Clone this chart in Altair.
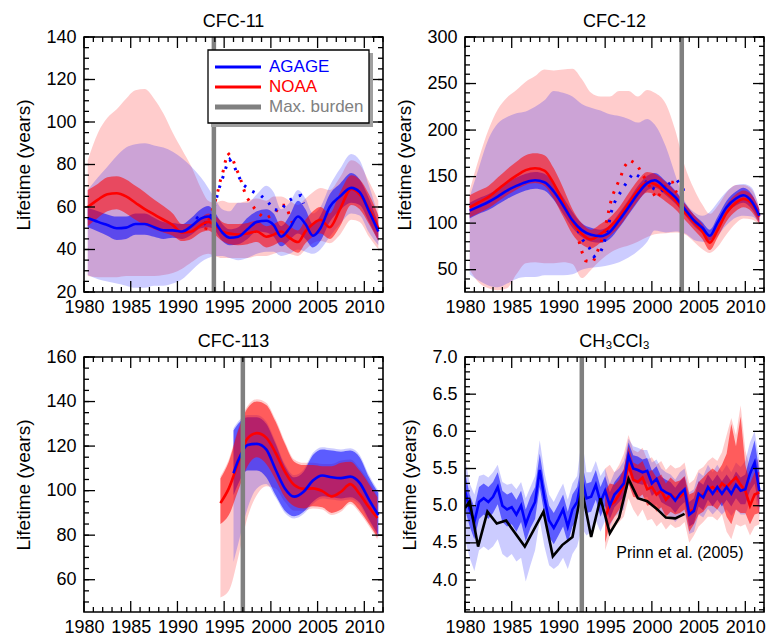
import altair as alt
import pandas as pd

FONT = "Liberation Sans"
W, H = 299, 255
BLUE, RED, GREY, BLACK = "#0000ff", "#ff0000", "#808080", "#000000"
LIGHT_OP, DARK_OP = 0.2, 0.55

X_DOMAIN = [1980, 2012]
X_MAJOR = [1980, 1985, 1990, 1995, 2000, 2005, 2010]
X_MINOR = [y for y in range(1980, 2013) if y % 5 != 0]

# ---------------- CFC-11 ----------------
CFC11_YEARS = [1980.4, 1981.5, 1982.5, 1983.5, 1984.5, 1985.5, 1986.5, 1987.5, 1988.5, 1989.5,
               1990.5, 1991.5, 1992.5, 1993.3, 1994.0, 1994.8, 1995.6, 1996.5, 1997.5, 1998.5,
               1999.5, 2000.3, 2001.1, 2002.0, 2002.9, 2003.7, 2004.5, 2005.3, 2006.3, 2007.4,
               2008.6, 2009.5, 2010.5, 2011.5]
CFC11_AGAGE = [54.8, 53.0, 51.5, 50.0, 50.3, 52.0, 52.0, 50.5, 49.0, 49.0, 48.5, 51.0, 54.5, 55.5,
               53.0, 48.0, 45.5, 46.0, 49.5, 53.0, 53.5, 51.5, 46.0, 50.0, 55.5, 52.0, 46.5, 50.0,
               60.0, 65.0, 69.0, 67.0, 58.0, 48.5]
CFC11_AGAGE_DLO = [50.5, 48.5, 46.5, 44.5, 45, 47, 47, 46, 45, 45.5, 45, 47, 50, 50.5, 49, 44, 42,
                   42.5, 45, 48.5, 48, 46, 41.5, 44.5, 47.5, 45, 41, 44, 53, 58.5, 62, 61, 53, 44]
CFC11_AGAGE_DHI = [59.5, 58, 56.5, 55.5, 55.5, 57, 57, 55, 53, 52.5, 52, 55, 59, 60.5, 57.5, 52,
                   49.5, 50.5, 55, 58, 59, 57, 51, 56, 63, 59, 52, 56, 66, 71, 76, 73, 64, 52]
CFC11_AGAGE_LLO = [28, 26, 25, 24, 23, 22, 22, 23, 23, 24, 26, 30, 34, 36, 37, 37, 36, 35, 36, 38,
                   39, 39, 37, 38, 40, 39, 38, 40, 46, 52, 57, 56, 48, 42]
CFC11_AGAGE_LHI = [68, 74, 79, 84, 88, 89.5, 90, 89, 88, 86, 83, 79, 74, 69, 64, 59, 58, 62, 62, 66,
                   70, 67, 59, 62, 68, 64, 57, 60, 70, 78, 85, 82, 70, 56]
CFC11_NOAA = [60, 63.5, 66, 66.5, 65, 62, 59, 56.5, 54, 51.5, 48, 48.5, 51.5, 53, 51.5, 48.5, 47.5,
              47, 47.5, 48.5, 46, 47, 48.5, 45.5, 43.5, 48.5, 52, 54, 50.5, 59, 68.5, 66, 59, 50]
CFC11_NOAA_DLO = [51, 55, 58, 59, 57, 54, 51.5, 49.5, 48, 46.5, 44, 45, 48, 49, 47, 44, 42.5, 42,
                  42.5, 43.5, 41, 42, 43.5, 40.5, 38.5, 43, 46, 47.5, 45, 51, 61, 59, 52, 44]
CFC11_NOAA_DHI = [68, 71, 74, 74.5, 73, 70, 67, 63.5, 60.5, 57, 52, 52, 55, 57, 56, 53, 52, 52,
                  52.5, 53.5, 51, 52, 53.5, 51, 49, 54, 58, 60, 57, 67, 75, 73, 66, 56]
CFC11_NOAA_LLO = [27.5, 27, 27, 27, 27.5, 27.5, 27.5, 27.5, 28, 29, 31, 34, 37, 38, 37, 36, 36, 36,
                  36, 37, 37, 38, 39, 38, 37, 40, 43, 44, 43, 47, 54, 53, 46, 40]
CFC11_NOAA_LHI = [82, 95, 102, 106, 111, 115, 115.5, 111, 104, 95, 87, 79, 69, 63, 62, 63, 62, 62,
                  63, 64, 63, 65, 65, 63, 61, 64, 67, 69, 68, 74, 82, 80, 72, 63]
CFC11_AGAGE_DOT_YEARS = [1992.0, 1992.9, 1993.5, 1994.0, 1994.4, 1994.9, 1995.3, 1995.6, 1996.1,
                         1996.6, 1997.1, 1998.0, 1998.9, 1999.7, 2000.3, 2001.1, 2001.7, 2002.6,
                         2003.2, 2003.5]
CFC11_AGAGE_DOT = [55.3, 52.2, 55, 61, 68, 74.5, 80, 82.3, 78.8, 74, 70.2, 67.4, 65.5, 62.4, 58.7,
                   58.4, 62.4, 64.7, 65.5, 61.6]
CFC11_NOAA_DOT_YEARS = [1993.0, 1993.6, 1994.0, 1994.3, 1994.6, 1994.9, 1995.1, 1995.4, 1995.9,
                        1996.3, 1996.7, 1997.0, 1997.4, 1998.0, 1998.6, 1999.4, 2000.4, 2001.0,
                        2001.6, 2002.0, 2002.4]
CFC11_NOAA_DOT = [49.3, 56.9, 62, 67, 72.5, 77, 81, 85.4, 82.7, 78, 74, 69.4, 64.7, 60.8, 57.3,
                  54.5, 56.9, 60.8, 60.8, 56, 51.4]

# ---------------- CFC-12 ----------------
CFC12_YEARS = [1980.5, 1981.5, 1982.5, 1983.5, 1984.5, 1985.5, 1986.5, 1987.5, 1988.5, 1989.5,
               1990.5, 1991.5, 1992.5, 1993.5, 1994.5, 1995.5, 1996.5, 1997.5, 1998.5, 1999.5,
               2000.3, 2001.5, 2002.5, 2003.5, 2004.5, 2005.4, 2006.2, 2007.0, 2008.0, 2009.0,
               2009.8, 2010.7, 2011.5]
CFC12_AGAGE = [113.5, 118, 122.7, 128.5, 135, 140, 144, 146, 144, 134, 119, 103, 92.5, 87.5, 86,
               90.5, 103, 117, 131.5, 143, 146, 137, 128, 115.5, 103, 95, 86.5, 100, 117, 126.5,
               130, 123, 108]
CFC12_AGAGE_DLO = [105, 110, 114, 120, 126, 131, 135, 137, 135, 125, 110, 95, 85, 80, 79, 83, 95,
                   109, 123, 135, 138, 130, 121, 109, 97, 89, 81, 94, 110, 119, 122, 115, 101]
CFC12_AGAGE_DHI = [122, 127, 131, 137, 144, 149, 153, 155, 153, 143, 128, 112, 100, 95, 93, 98,
                   111, 125, 140, 151, 154, 145, 135, 122, 109, 101, 93, 106, 124, 134, 138, 131, 115]
CFC12_AGAGE_LLO = [45, 38, 33, 31, 35, 40, 42, 42, 44, 44, 44, 45, 50, 52, 53, 55, 58, 63, 70, 80,
                   92, 90, 91, 89, 82, 80, 79, 86, 98, 106, 108, 107, 100]
CFC12_AGAGE_LHI = [128, 160, 190, 207, 214, 218, 220, 225, 232, 242, 240, 236, 228, 224, 221, 217,
                   215, 212, 208, 212, 206, 182, 152, 124, 112, 108, 112, 122, 134, 141, 142, 138, 115]
CFC12_NOAA = [117, 122.5, 128, 136, 144, 151, 157, 159, 156.5, 142.5, 122.5, 101, 88.5, 82.5, 88.5,
              96, 106.5, 121, 135, 144, 142, 133.5, 124.5, 112, 101, 91, 79, 92, 111, 122, 126,
              121, 107]
CFC12_NOAA_DLO = [106, 111, 116, 123, 130, 136, 141, 143, 140, 126, 107, 88, 77, 73, 79, 86, 96,
                  110, 124, 133, 131, 123, 115, 104, 93, 83, 71, 84, 102, 113, 117, 112, 99]
CFC12_NOAA_DHI = [130, 135, 140, 149, 158, 166, 173, 175, 173, 159, 138, 115, 100, 93, 99, 106,
                  117, 132, 146, 155, 153, 144, 134, 121, 109, 99, 87, 100, 120, 131, 135, 130, 115]
CFC12_NOAA_LLO = [50, 36, 30, 28, 30, 45, 57, 58, 57, 57, 58, 56, 41, 50, 60, 68, 73, 76, 80, 85,
                  88, 89, 90, 88, 80, 72, 68, 74, 88, 100, 105, 104, 98]
CFC12_NOAA_LHI = [135, 170, 200, 222, 235, 243, 252, 258, 265, 264, 265, 266, 255, 240, 236, 236,
                  242, 242, 236, 243, 240, 228, 200, 162, 137, 120, 110, 118, 133, 141, 141, 136, 118]
CFC12_AGAGE_DOT_YEARS = [1992.1, 1992.6, 1993.3, 1993.8, 1994.5, 1994.9, 1995.1, 1995.4, 1995.6,
                         1995.9, 1996.3, 1996.7, 1997.1, 1998.0, 1998.8, 1999.5, 2000.2, 2000.9,
                         2001.4, 2002.0, 2002.7, 2003.3, 2003.6]
CFC12_AGAGE_DOT = [92, 82, 73.5, 64, 68.6, 78.5, 88.7, 99.3, 110, 120, 128, 134, 140.6, 154, 149,
                   143, 137, 133.5, 137, 144, 146, 138, 128]
CFC12_NOAA_DOT_YEARS = [1992.2, 1992.5, 1992.9, 1993.7, 1994.1, 1994.5, 1994.9, 1995.1, 1995.3,
                        1995.5, 1995.8, 1996.25, 1996.7, 1997.0, 1997.6, 1998.4, 1998.9, 1999.5,
                        2000.0, 2000.5, 2001.1, 2001.7, 2002.2, 2002.6, 2003.1, 2003.75]
CFC12_NOAA_DOT = [80.4, 69.6, 59.6, 57.8, 67.5, 78.2, 88.3, 99, 109, 119, 130, 140.6, 150.6, 160,
                  168, 163, 154, 144, 135, 126, 135, 144, 144, 133.5, 126, 121]

# ---------------- CFC-113 ----------------
CFC113_NOAA_YEARS = [1994.6, 1995.5, 1996.5, 1997.5, 1998.5, 1999.5, 2000.5, 2001.5, 2002.5,
                     2003.5, 2004.5, 2005.5, 2006.5, 2007.5, 2008.5, 2009.5, 2010.5, 2011.4]
CFC113_NOAA = [94.4, 101, 112.5, 123.5, 125.8, 123.8, 117, 108.5, 102.5, 100.8, 101, 99.8, 97.4,
               99.5, 102.9, 98.5, 92.5, 87.7]
CFC113_NOAA_DLO = [85, 89, 100, 111, 115, 112, 105, 97, 93, 92, 93, 92.5, 90, 91.5, 95, 91, 85, 79]
CFC113_NOAA_DHI = [105.5, 113, 127, 137, 140, 138.5, 131, 121, 113, 111.5, 111.5, 111, 111, 112.5,
                   113, 109, 103, 97]
CFC113_NOAA_LLO = [52, 55, 70, 88, 98, 102, 101, 95, 91, 91, 92, 91.5, 89, 90.5, 94, 90, 84, 78]
CFC113_NOAA_LHI = [106.5, 114, 128, 138, 141, 139.5, 132, 122, 114, 112.5, 112.5, 112, 112, 113.5,
                   114, 110, 104, 98]
CFC113_AGAGE_YEARS = [1996.0, 1996.5, 1997.5, 1998.5, 1999.5, 2000.5, 2001.5, 2002.5, 2003.5,
                      2004.5, 2005.5, 2006.5, 2007.5, 2008.5, 2009.5, 2010.5, 2011.5]
CFC113_AGAGE = [107.8, 113.5, 120.5, 121, 118.5, 109.5, 101, 97.3, 99.5, 104.5, 106.8, 106, 105.6,
                106.3, 103.5, 96, 89]
CFC113_AGAGE_DLO = [98, 103, 109, 109, 106, 98, 91, 88.5, 90.5, 95, 97.5, 97, 96.5, 97, 94.5, 87, 80]
CFC113_AGAGE_DHI = [127, 130, 133, 133, 130, 121, 111, 106, 108.5, 116, 118.5, 118, 117.5, 118,
                    115, 106, 99]
CFC113_AGAGE_LLO = [68, 76, 92, 101, 103, 97, 90, 87.5, 89.5, 94, 96.5, 96, 95.5, 96, 93.5, 86, 79]
CFC113_AGAGE_LHI = [128, 131, 134, 134, 131, 122, 112, 107, 109.5, 117, 119.5, 119, 118.5, 119,
                    116, 107, 100]

# ---------------- CH3CCl3 ----------------
CH3_AGAGE_YEARS = [1980.0 + 0.5 * i for i in range(64)]
CH3_AGAGE = [5.20, 4.95, 4.78, 5.05, 5.10, 5.05, 5.12, 5.25,
             5.00, 4.95, 4.98, 4.88, 5.00, 4.75, 4.92, 5.05,
             5.48, 5.10, 4.80, 4.70, 4.82, 4.95, 4.72, 4.95,
             5.05, 5.38, 5.10, 5.12, 5.28, 5.05, 5.20, 5.00,
             5.15, 5.22, 5.30, 5.67, 5.50, 5.48, 5.45, 5.47,
             5.30, 5.36, 5.22, 5.18, 5.15, 5.07, 5.16, 5.22,
             4.88, 4.93, 5.16, 5.11, 5.25, 5.16, 5.25, 5.16,
             5.25, 5.16, 5.28, 5.20, 5.22, 5.43, 5.58, 5.20]
CH3_AGAGE_DLO = [4.95, 4.72, 4.55, 4.82, 4.88, 4.82, 4.90, 5.02,
                 4.78, 4.72, 4.75, 4.65, 4.78, 4.52, 4.70, 4.82,
                 5.25, 4.88, 4.58, 4.48, 4.60, 4.72, 4.50, 4.72,
                 4.82, 5.15, 4.90, 4.92, 5.08, 4.85, 5.00, 4.82,
                 4.98, 5.05, 5.12, 5.48, 5.32, 5.30, 5.28, 5.30,
                 5.13, 5.19, 5.05, 5.01, 4.98, 4.90, 4.99, 5.05,
                 4.72, 4.76, 4.99, 4.94, 5.08, 4.99, 5.08, 4.99,
                 5.08, 4.99, 5.10, 5.02, 5.02, 5.20, 5.30, 4.95]
CH3_AGAGE_DHI = [5.45, 5.15, 4.98, 5.25, 5.30, 5.25, 5.32, 5.45,
                 5.20, 5.15, 5.18, 5.08, 5.20, 4.95, 5.12, 5.25,
                 5.70, 5.30, 5.00, 4.90, 5.02, 5.15, 4.92, 5.15,
                 5.25, 5.58, 5.30, 5.32, 5.48, 5.25, 5.40, 5.18,
                 5.32, 5.40, 5.48, 5.85, 5.68, 5.66, 5.62, 5.64,
                 5.47, 5.53, 5.39, 5.35, 5.32, 5.24, 5.33, 5.39,
                 5.05, 5.10, 5.33, 5.28, 5.42, 5.33, 5.42, 5.33,
                 5.42, 5.33, 5.46, 5.38, 5.42, 5.66, 5.88, 5.45]
CH3_AGAGE_LLO = [4.55, 4.30, 4.12, 4.40, 4.45, 4.40, 4.45, 4.55,
                 4.35, 4.30, 4.35, 4.25, 4.30, 3.98, 4.20, 4.40,
                 4.80, 4.45, 4.20, 4.15, 4.20, 4.30, 4.15, 4.35,
                 4.45, 4.70, 4.60, 4.65, 4.80, 4.65, 4.80, 4.72,
                 4.85, 4.90, 4.95, 5.30, 5.15, 5.12, 5.10, 5.12,
                 4.98, 5.02, 4.90, 4.88, 4.85, 4.78, 4.85, 4.92,
                 4.62, 4.65, 4.88, 4.84, 4.96, 4.88, 4.95, 4.88,
                 4.95, 4.86, 4.95, 4.88, 4.88, 5.05, 5.15, 4.85]
CH3_AGAGE_LHI = [5.65, 5.30, 5.15, 5.40, 5.42, 5.38, 5.45, 5.55,
                 5.32, 5.28, 5.30, 5.22, 5.32, 5.10, 5.25, 5.40,
                 5.88, 5.45, 5.15, 5.05, 5.18, 5.30, 5.08, 5.30,
                 5.40, 5.92, 5.45, 5.45, 5.60, 5.40, 5.50, 5.30,
                 5.45, 5.50, 5.60, 5.90, 5.80, 5.78, 5.75, 5.75,
                 5.58, 5.62, 5.50, 5.45, 5.42, 5.35, 5.45, 5.50,
                 5.18, 5.22, 5.45, 5.40, 5.55, 5.45, 5.55, 5.45,
                 5.55, 5.45, 5.58, 5.52, 5.60, 5.85, 6.00, 5.60]
CH3_NOAA_YEARS = [1995.0 + 0.5 * i for i in range(34)]
CH3_NOAA = [4.85, 5.00, 5.05, 5.15, 5.28, 5.55, 5.35, 5.32, 5.38, 5.22, 5.25, 5.15, 5.20, 5.08,
            5.15, 5.10, 5.12, 5.18, 4.92, 4.95, 5.10, 5.15, 5.22, 5.25, 5.20, 5.30, 5.25, 5.32,
            5.38, 5.28, 5.20, 5.00, 5.15, 5.18]
CH3_NOAA_DLO = [4.50, 4.75, 4.85, 4.95, 5.05, 5.30, 5.12, 5.10, 5.15, 5.00, 5.02, 4.92, 4.98, 4.85,
                4.92, 4.88, 4.90, 4.95, 4.65, 4.75, 4.88, 4.92, 5.00, 5.00, 4.95, 5.05, 4.85, 4.75,
                4.95, 4.90, 4.90, 4.75, 4.88, 4.90]
CH3_NOAA_DHI = [5.20, 5.30, 5.28, 5.35, 5.50, 5.80, 5.58, 5.55, 5.60, 5.45, 5.48, 5.38, 5.42, 5.30,
                5.38, 5.32, 5.34, 5.40, 5.15, 5.18, 5.32, 5.38, 5.45, 5.50, 5.45, 5.55, 5.70, 6.10,
                5.80, 6.20, 5.55, 5.30, 5.45, 5.45]
CH3_NOAA_LLO = [4.40, 4.60, 4.70, 4.78, 4.85, 5.10, 4.95, 4.85, 4.95, 4.80, 4.82, 4.72, 4.78, 4.68,
                4.75, 4.70, 4.72, 4.78, 4.50, 4.60, 4.72, 4.78, 4.85, 4.85, 4.80, 4.88, 4.65, 4.55,
                4.75, 4.72, 4.75, 4.60, 4.72, 4.75]
CH3_NOAA_LHI = [5.50, 5.55, 5.45, 5.55, 5.70, 5.95, 5.75, 5.72, 5.78, 5.62, 5.65, 5.55, 5.60, 5.48,
                5.55, 5.50, 5.52, 5.58, 5.30, 5.35, 5.48, 5.52, 5.60, 5.65, 5.60, 5.72, 5.95, 6.18,
                5.95, 6.35, 5.75, 5.50, 5.62, 5.62]
PRINN_YEARS = [1980.0, 1980.5, 1981.4, 1982.4, 1983.4, 1984.4, 1986.4, 1988.4, 1989.4, 1990.4,
               1991.5, 1992.5, 1993.5, 1994.5, 1995.5, 1996.5, 1997.5, 1998.5, 1999.5, 2000.5,
               2001.5, 2002.5, 2003.5]
PRINN = [4.97, 5.06, 4.45, 4.92, 4.76, 4.80, 4.45, 4.92, 4.32, 4.47, 4.58, 5.22, 4.58, 5.10, 4.63,
         4.84, 5.36, 5.10, 5.06, 4.96, 4.84, 4.83, 4.89]

MAX_BURDEN = {"CFC-11": 1993.9, "CFC-12": 2003.2, "CFC-113": 1997.0, "CH3CCl3": 1992.5}

LEGEND_LABELS = ["AGAGE", "NOAA", "Max. burden"]
LEGEND_COLORS = [BLUE, RED, GREY]
LEGEND_WIDTHS = [3, 3, 5]


def x_enc(field):
    return alt.X(f"{field}:Q", scale=alt.Scale(domain=X_DOMAIN, nice=False, zero=False),
                 axis=alt.Axis(values=X_MAJOR, format="d", ticks=False, domain=False, grid=False,
                               labelFont=FONT, labelFontSize=18, labelColor=BLACK, labelPadding=6,
                               labelFlush=False, labelOverlap=False),
                 title=None)


def y_enc(field, p):
    return alt.Y(f"{field}:Q", scale=alt.Scale(domain=p["domain"], nice=False, zero=False),
                 axis=alt.Axis(values=p["major"], format=p["fmt"], ticks=False, domain=False,
                               grid=False, labelFont=FONT, labelFontSize=18, labelColor=BLACK,
                               labelPadding=8, labelFlush=False, labelOverlap=False,
                               titleFont=FONT, titleFontSize=19, titleFontWeight="normal",
                               titleColor=BLACK, titlePadding=12),
                 title="Lifetime (years)")


def series_df(years, line, dlo, dhi, llo, lhi):
    return pd.DataFrame({"year": years, "v": line, "dlo": dlo, "dhi": dhi, "llo": llo, "lhi": lhi})


def make_panel(p):
    interp = p["interp"]
    layers = []
    noaa, agage = p.get("noaa"), p["agage"]
    for df, col in ((noaa, RED), (agage, BLUE)):
        layers.append(alt.Chart(df).mark_area(color=col, opacity=LIGHT_OP, interpolate=interp,
                                              clip=True)
                      .encode(x=x_enc("year"), y=y_enc("llo", p), y2=alt.Y2("lhi:Q")))
    for df, col in ((agage, BLUE), (noaa, RED)):
        layers.append(alt.Chart(df).mark_area(color=col, opacity=DARK_OP, interpolate=interp,
                                              clip=True)
                      .encode(x=x_enc("year"), y=y_enc("dlo", p), y2=alt.Y2("dhi:Q")))
    for df, col in p.get("dots", []):
        layers.append(alt.Chart(df).mark_line(color=col, strokeWidth=3, strokeDash=[2.5, 7.5],
                                              clip=True)
                      .encode(x=x_enc("year"), y=y_enc("v", p)))
    for df, col in ((noaa, RED), (agage, BLUE)):
        layers.append(alt.Chart(df).mark_line(color=col, strokeWidth=2.6, interpolate=interp,
                                              clip=True)
                      .encode(x=x_enc("year"), y=y_enc("v", p)))
    for lay in p.get("extra", []):
        layers.append(lay)
    layers.append(alt.Chart(pd.DataFrame({"year": [MAX_BURDEN[p["key"]]]}))
                  .mark_rule(color=GREY, strokeWidth=4.5)
                  .encode(x=x_enc("year")))
    for vals, L in ((X_MAJOR, 11), (X_MINOR, 5)):
        base = alt.Chart(pd.DataFrame({"t": vals})).mark_rule(color=BLACK, strokeWidth=1.3)
        layers.append(base.encode(x=x_enc("t"), y=alt.value(H), y2=alt.value(H - L)))
        layers.append(base.encode(x=x_enc("t"), y=alt.value(0), y2=alt.value(L)))
    for vals, L in ((p["major"], 11), (p["minor"], 5)):
        base = alt.Chart(pd.DataFrame({"t": vals})).mark_rule(color=BLACK, strokeWidth=1.3)
        layers.append(base.encode(y=y_enc("t", p), x=alt.value(0), x2=alt.value(L)))
        layers.append(base.encode(y=y_enc("t", p), x=alt.value(W), x2=alt.value(W - L)))
    one = pd.DataFrame({"k": [0]})
    layers.append(alt.Chart(one).mark_rect(filled=False, stroke=BLACK, strokeWidth=1.6)
                  .encode(x=alt.value(0), x2=alt.value(W), y=alt.value(0), y2=alt.value(H)))
    # panel title as a text mark just above the frame
    layers.append(alt.Chart(one).mark_text(font=FONT, fontSize=18, color=BLACK, align="center",
                                           baseline="alphabetic", text=p["title"])
                  .encode(x=alt.value(W / 2), y=alt.value(-10)))
    if p.get("legend"):
        layers.append(alt.Chart(one).mark_rect(fill="#a0a0a0")
                      .encode(x=alt.value(127), x2=alt.value(289), y=alt.value(16), y2=alt.value(90)))
        layers.append(alt.Chart(one).mark_rect(fill="white", stroke=BLACK, strokeWidth=1.3)
                      .encode(x=alt.value(124), x2=alt.value(285), y=alt.value(13), y2=alt.value(86)))
        for i, (lab, col, sw) in enumerate(zip(LEGEND_LABELS, LEGEND_COLORS, LEGEND_WIDTHS)):
            yy = 30 + 20 * i
            layers.append(alt.Chart(one).mark_rule(color=col, strokeWidth=sw)
                          .encode(x=alt.value(131), x2=alt.value(177), y=alt.value(yy)))
            layers.append(alt.Chart(one).mark_text(color=col, font=FONT, fontSize=17, align="left",
                                                   baseline="middle", text=lab)
                          .encode(x=alt.value(185), y=alt.value(yy)))
    return alt.layer(*layers).properties(width=W, height=H)


p11 = dict(key="CFC-11", title="CFC-11", domain=[20, 140], fmt="d",
           major=[20, 40, 60, 80, 100, 120, 140], minor=list(range(20, 141, 5)),
           interp="monotone",
           agage=series_df(CFC11_YEARS, CFC11_AGAGE, CFC11_AGAGE_DLO, CFC11_AGAGE_DHI,
                           CFC11_AGAGE_LLO, CFC11_AGAGE_LHI),
           noaa=series_df(CFC11_YEARS, CFC11_NOAA, CFC11_NOAA_DLO, CFC11_NOAA_DHI,
                          CFC11_NOAA_LLO, CFC11_NOAA_LHI),
           dots=[(pd.DataFrame({"year": CFC11_NOAA_DOT_YEARS, "v": CFC11_NOAA_DOT}), RED),
                 (pd.DataFrame({"year": CFC11_AGAGE_DOT_YEARS, "v": CFC11_AGAGE_DOT}), BLUE)],
           legend=True)

p12 = dict(key="CFC-12", title="CFC-12", domain=[26, 300], fmt="d",
           major=[50, 100, 150, 200, 250, 300], minor=list(range(30, 301, 10)),
           interp="monotone",
           agage=series_df(CFC12_YEARS, CFC12_AGAGE, CFC12_AGAGE_DLO, CFC12_AGAGE_DHI,
                           CFC12_AGAGE_LLO, CFC12_AGAGE_LHI),
           noaa=series_df(CFC12_YEARS, CFC12_NOAA, CFC12_NOAA_DLO, CFC12_NOAA_DHI,
                          CFC12_NOAA_LLO, CFC12_NOAA_LHI),
           dots=[(pd.DataFrame({"year": CFC12_NOAA_DOT_YEARS, "v": CFC12_NOAA_DOT}), RED),
                 (pd.DataFrame({"year": CFC12_AGAGE_DOT_YEARS, "v": CFC12_AGAGE_DOT}), BLUE)])

p113 = dict(key="CFC-113", title="CFC-113", domain=[45.5, 160], fmt="d",
            major=[60, 80, 100, 120, 140, 160], minor=list(range(50, 161, 5)),
            interp="monotone",
            agage=series_df(CFC113_AGAGE_YEARS, CFC113_AGAGE, CFC113_AGAGE_DLO, CFC113_AGAGE_DHI,
                            CFC113_AGAGE_LLO, CFC113_AGAGE_LHI),
            noaa=series_df(CFC113_NOAA_YEARS, CFC113_NOAA, CFC113_NOAA_DLO, CFC113_NOAA_DHI,
                           CFC113_NOAA_LLO, CFC113_NOAA_LHI))

prinn_df = pd.DataFrame({"year": PRINN_YEARS, "v": PRINN})
p_ch3 = dict(key="CH3CCl3", title="CH₃CCl₃", domain=[3.57, 7.0], fmt=".1f",
             major=[4.0, 4.5, 5.0, 5.5, 6.0, 6.5, 7.0],
             minor=[round(3.6 + 0.1 * i, 1) for i in range(35)],
             interp="linear",
             agage=series_df(CH3_AGAGE_YEARS, CH3_AGAGE, CH3_AGAGE_DLO, CH3_AGAGE_DHI,
                             CH3_AGAGE_LLO, CH3_AGAGE_LHI),
             noaa=series_df(CH3_NOAA_YEARS, CH3_NOAA, CH3_NOAA_DLO, CH3_NOAA_DHI,
                            CH3_NOAA_LLO, CH3_NOAA_LHI))
p_ch3["extra"] = [
    alt.Chart(prinn_df).mark_line(color=BLACK, strokeWidth=2.6, clip=True)
    .encode(x=x_enc("year"), y=y_enc("v", p_ch3)),
    alt.Chart(pd.DataFrame({"year": [2003.0], "v": [4.36], "label": ["Prinn et al. (2005)"]}))
    .mark_text(font=FONT, fontSize=16, color=BLACK, align="center", baseline="middle")
    .encode(x=x_enc("year"), y=y_enc("v", p_ch3), text="label:N"),
]

chart = alt.concat(make_panel(p11), make_panel(p12), make_panel(p113), make_panel(p_ch3),
                   columns=2, spacing={"row": 65, "column": 82}, bounds="flush").properties(
    padding={"left": 14, "top": 13, "right": 0, "bottom": 0},
    background="white",
).configure_view(stroke=None)

chart.save("out.html", embed_options={"renderer": "svg", "actions": False})
